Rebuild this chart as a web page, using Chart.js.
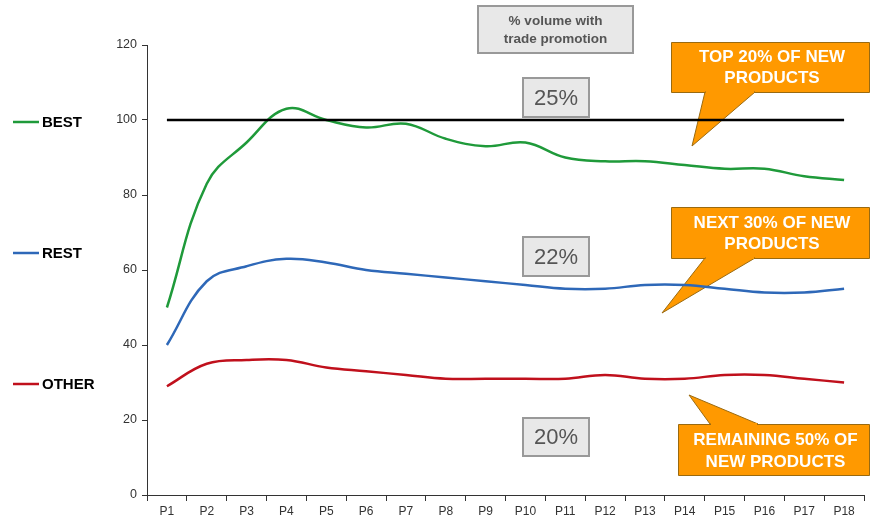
<!DOCTYPE html>
<html><head><meta charset="utf-8">
<script src="https://cdn.jsdelivr.net/npm/chart.js@4/dist/chart.umd.min.js"></script>
<style>html,body{margin:0;padding:0;background:#fff}#wrap{width:875px;height:519px;position:relative}</style>
</head><body><div id="wrap"><canvas id="c" width="875" height="519"></canvas></div>
<script>
const categories = ['P1','P2','P3','P4','P5','P6','P7','P8','P9','P10','P11','P12','P13','P14','P15','P16','P17','P18'];
const best  = [50,83,94,103,100,98,99,95,93,94,90,89,89,88,87,87,85,84];
const rest  = [40,57,61,63,62,60,59,58,57,56,55,55,56,56,55,54,54,55];
const other = [29,35,36,36,34,33,32,31,31,31,31,32,31,31,32,32,31,30];
const benchmark = [100,100,100,100,100,100,100,100,100,100,100,100,100,100,100,100,100,100];
const yTicks = [0,20,40,60,80,100,120];
const seriesNames = ['BEST','REST','OTHER'];
const shareLabels = ['25%','22%','20%'];
const calloutTexts = [['TOP 20% OF NEW','PRODUCTS'],['NEXT 30% OF NEW','PRODUCTS'],['REMAINING 50% OF','NEW PRODUCTS']];
const titleText = ['% volume with','trade promotion'];

const colors = {best:'#1f9a3a', rest:'#2e68b8', other:'#c0101c'};

const decor = {
  id:'decor',
  beforeDatasetsDraw(chart){
    const ctx = chart.ctx;
    const callouts = [
      {x1:671,y1:42,x2:869,y2:92,tail:[[705,92],[692,146],[755,92]],tl:[57,78]},
      {x1:671,y1:207,x2:869,y2:258,tail:[[705,258],[662,313],[755,258]],tl:[223,244]},
      {x1:678,y1:424,x2:869,y2:475,tail:[[710,424],[689,395],[758,424]],tl:[440,462]}
    ];
    ctx.save();
    callouts.forEach((c,i)=>{
      ctx.beginPath();
      ctx.fillStyle='#ff9900';
      ctx.strokeStyle='#9a6a10';
      ctx.lineWidth=1;
      ctx.rect(c.x1+0.5,c.y1+0.5,c.x2-c.x1,c.y2-c.y1);
      ctx.fill();ctx.stroke();
      ctx.beginPath();
      ctx.moveTo(c.tail[0][0],c.tail[0][1]);
      ctx.lineTo(c.tail[1][0],c.tail[1][1]);
      ctx.lineTo(c.tail[2][0],c.tail[2][1]);
      ctx.closePath();
      ctx.fill();ctx.stroke();
      ctx.beginPath();
      ctx.moveTo(c.tail[0][0]+1,c.tail[0][1]);
      ctx.lineTo(c.tail[2][0]-1,c.tail[2][1]);
      ctx.strokeStyle='#ff9900';ctx.lineWidth=2;ctx.stroke();
      ctx.fillStyle='#ffffff';
      ctx.font='bold 17px Arial, "Liberation Sans", sans-serif';
      ctx.textAlign='center';ctx.textBaseline='middle';
      const cx=(c.x1+c.x2)/2+2;
      ctx.fillText(calloutTexts[i][0],cx,c.tl[0]);
      ctx.fillText(calloutTexts[i][1],cx,c.tl[1]);
    });
    ctx.restore();
  },
  afterDraw(chart){
    const ctx = chart.ctx;
    ctx.save();
    function box(x1,y1,x2,y2){
      ctx.fillStyle='#e8e8e8';
      ctx.fillRect(x1,y1,x2-x1,y2-y1);
      ctx.strokeStyle='#999999';ctx.lineWidth=2;
      ctx.strokeRect(x1,y1,x2-x1,y2-y1);
    }
    box(478,6,633,53);
    ctx.fillStyle='#555555';
    ctx.font='bold 13.5px Arial, "Liberation Sans", sans-serif';
    ctx.textAlign='center';ctx.textBaseline='middle';
    ctx.fillText(titleText[0],555.5,21);
    ctx.fillText(titleText[1],555.5,39);
    const pb=[[78,117],[237,276],[418,456]];
    pb.forEach((p,i)=>{
      box(523,p[0],589,p[1]);
      ctx.fillStyle='#555555';
      ctx.font='22px Arial, "Liberation Sans", sans-serif';
      ctx.textAlign='center';ctx.textBaseline='middle';
      ctx.fillText(shareLabels[i],556,(p[0]+p[1])/2+1);
    });
    const ly=[122,253,384];
    const lc=[colors.best,colors.rest,colors.other];
    ly.forEach((y,i)=>{
      ctx.strokeStyle=lc[i];ctx.lineWidth=2.5;
      ctx.beginPath();ctx.moveTo(13,y);ctx.lineTo(39,y);ctx.stroke();
      ctx.fillStyle='#000';
      ctx.font='bold 15px Arial, "Liberation Sans", sans-serif';
      ctx.textAlign='left';ctx.textBaseline='middle';
      ctx.fillText(seriesNames[i],42,y+1);
    });
    ctx.restore();
  }
};

new Chart(document.getElementById('c'),{
  type:'line',
  data:{labels:categories,datasets:[
    {label:'benchmark',data:benchmark,borderColor:'#000',borderWidth:2.5,pointRadius:0,tension:0},
    {label:seriesNames[0],data:best,borderColor:colors.best,borderWidth:2.5,pointRadius:0,tension:0.4},
    {label:seriesNames[1],data:rest,borderColor:colors.rest,borderWidth:2.5,pointRadius:0,tension:0.4},
    {label:seriesNames[2],data:other,borderColor:colors.other,borderWidth:2.5,pointRadius:0,tension:0.4}
  ]},
  options:{
    responsive:false,animation:false,
    layout:{padding:{left:0,right:11,top:45,bottom:0}},
    plugins:{legend:{display:false},tooltip:{enabled:false}},
    scales:{
      x:{offset:true,
        grid:{display:true,drawOnChartArea:false,drawTicks:true,tickLength:6,color:'#333',offset:true},
        border:{display:true,color:'#333',width:1},
        ticks:{color:'#333',font:{family:'Arial, "Liberation Sans", sans-serif',size:12},padding:3,maxRotation:0,autoSkip:false},
        afterFit(s){s.height=24;}
      },
      y:{min:0,max:120,
        afterBuildTicks(s){s.ticks=yTicks.map(v=>({value:v}));},
        grid:{display:true,drawOnChartArea:false,drawTicks:true,tickLength:5,color:'#333'},
        border:{display:true,color:'#333',width:1},
        ticks:{color:'#333',font:{family:'Arial, "Liberation Sans", sans-serif',size:12.5},padding:5},
        afterFit(s){s.width=147;}
      }
    }
  },
  plugins:[decor]
});
</script></body></html>
